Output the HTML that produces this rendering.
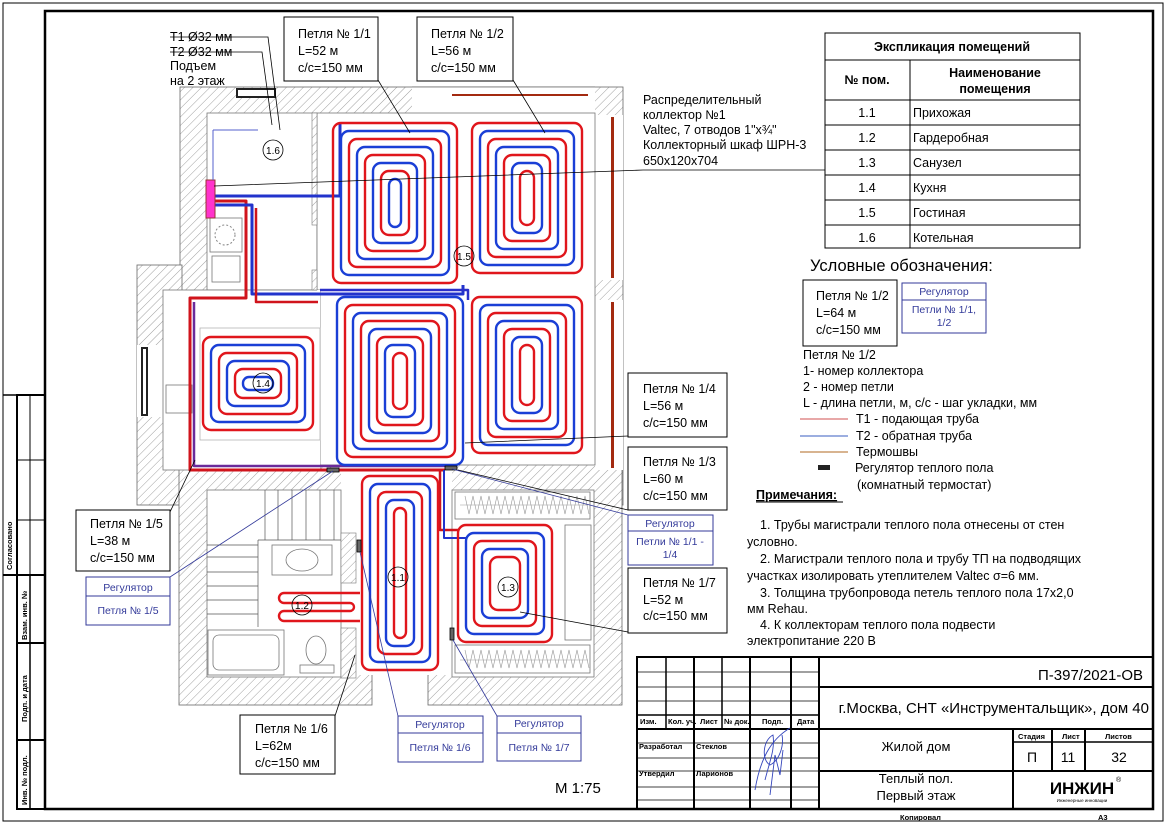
<!DOCTYPE html>
<html><head><meta charset="utf-8"><style>
html,body{margin:0;padding:0;background:#fff}
svg{display:block}
text{font-family:"Liberation Sans","DejaVu Sans",sans-serif;fill:#000}
.b{font-size:12.5px}
.r{fill:none;stroke:#e0161c;stroke-width:2.4}
.u{fill:none;stroke:#1a3fd6;stroke-width:2.4}
.bx{fill:#fff;stroke:#000;stroke-width:1}
.bb{fill:#fff;stroke:#333a9a;stroke-width:1}
.bt{fill:#333a9a;font-size:10.5px}
.g{fill:#fff;stroke:#777;stroke-width:0.8}
.ln{stroke:#000;stroke-width:0.8;fill:none}
.bl{stroke:#333a9a;stroke-width:0.8;fill:none}
.st{font-size:7.5px;font-weight:bold}
</style></head><body>
<svg width="1166" height="824" viewBox="0 0 1166 824" xmlns="http://www.w3.org/2000/svg">
<defs>
<pattern id="h" width="6" height="6" patternUnits="userSpaceOnUse" patternTransform="rotate(45)">
<rect width="6" height="6" fill="#fff"/><line x1="0" y1="0" x2="0" y2="6" stroke="#888" stroke-width="0.8"/></pattern>
</defs>
<rect x="0" y="0" width="1166" height="824" fill="#fff"/>
<!-- frames -->
<rect x="3" y="3" width="1160" height="818" fill="none" stroke="#000" stroke-width="1"/>
<rect x="45" y="11" width="1108" height="798" fill="none" stroke="#000" stroke-width="2.5"/>
<!-- left stamp -->
<g stroke="#000" fill="none">
<rect x="17" y="395" width="28" height="414" stroke-width="2"/>
<line x1="3" y1="575" x2="45" y2="575" stroke-width="2"/>
<line x1="3" y1="395" x2="17" y2="395" stroke-width="1.5"/>
<line x1="3" y1="575" x2="3" y2="395"/>
<line x1="30" y1="395" x2="30" y2="575"/>
<line x1="17" y1="460" x2="45" y2="460"/>
<line x1="17" y1="520" x2="45" y2="520"/>
<line x1="30" y1="575" x2="30" y2="809" stroke-width="1.5"/>
<line x1="17" y1="643" x2="45" y2="643" stroke-width="2"/>
<line x1="17" y1="740" x2="45" y2="740" stroke-width="2"/>
</g>
<text class="st" transform="translate(12,570) rotate(-90)">Согласовано</text>
<text class="st" transform="translate(27,640) rotate(-90)">Взам. инв. №</text>
<text class="st" transform="translate(27,722) rotate(-90)">Подп. и дата</text>
<text class="st" transform="translate(27,805) rotate(-90)">Инв. № подл.</text>

<!-- building hatched -->
<rect x="180" y="87" width="443" height="418" fill="url(#h)" stroke="#666" stroke-width="0.8"/>
<rect x="137" y="265" width="45" height="240" fill="url(#h)" stroke="#666" stroke-width="0.8"/>
<rect x="179" y="460" width="193" height="245" fill="url(#h)" stroke="#666" stroke-width="0.8"/>
<rect x="428" y="460" width="194" height="245" fill="url(#h)" stroke="#666" stroke-width="0.8"/>
<!-- openings / interiors -->
<rect x="412" y="87" width="183" height="27" fill="#fff"/>
<line x1="412" y1="87" x2="595" y2="87" stroke="#666" stroke-width="0.8"/>
<rect x="452" y="94" width="136" height="2" fill="#a32a10"/>
<rect x="237" y="89" width="38" height="8" fill="#fff" stroke="#222" stroke-width="2"/>
<rect x="595" y="115" width="28" height="165" fill="#fff"/>
<rect x="595" y="300" width="28" height="170" fill="#fff"/>
<rect x="611" y="117" width="3" height="161" fill="#a32a10"/>
<rect x="611" y="302" width="3" height="166" fill="#a32a10"/>
<rect x="137" y="345" width="26" height="72" fill="#fff"/>
<rect x="142" y="348" width="5" height="67" fill="#fff" stroke="#222" stroke-width="2"/>
<rect x="207" y="113" width="110" height="177" class="g"/>
<rect x="317" y="113" width="278" height="352" class="g"/>
<rect x="163" y="290" width="157" height="180" class="g"/>
<rect x="317" y="290" width="3" height="180" fill="#fff"/>
<rect x="341" y="465" width="111" height="210" fill="#fff"/>
<rect x="207" y="490" width="134" height="187" class="g"/>
<rect x="452" y="490" width="142" height="187" class="g"/>
<rect x="312" y="113" width="5" height="112" fill="url(#h)" stroke="#777" stroke-width="0.6"/>
<rect x="312" y="270" width="5" height="20" fill="url(#h)" stroke="#777" stroke-width="0.6"/>
<!-- kitchen fixtures -->
<rect x="210" y="218" width="32" height="34" class="g"/>
<circle cx="225" cy="235" r="10" fill="none" stroke="#888" stroke-dasharray="2 2"/>
<rect x="212" y="256" width="28" height="26" class="g"/>
<rect x="166" y="385" width="26" height="28" class="g"/>
<rect x="200" y="328" width="120" height="112" fill="none" stroke="#aaa" stroke-width="0.7"/>
<!-- stairs -->
<g stroke="#555" stroke-width="0.7">
<line x1="265" y1="490" x2="265" y2="540"/><line x1="278" y1="490" x2="278" y2="540"/>
<line x1="292" y1="490" x2="292" y2="540"/><line x1="306" y1="490" x2="306" y2="540"/>
<line x1="320" y1="490" x2="320" y2="540"/><line x1="334" y1="490" x2="334" y2="540"/>
<line x1="207" y1="545" x2="258" y2="545"/><line x1="207" y1="557" x2="258" y2="557"/>
<line x1="207" y1="572" x2="258" y2="572"/><line x1="207" y1="586" x2="258" y2="586"/>
<line x1="207" y1="600" x2="258" y2="600"/><line x1="207" y1="614" x2="258" y2="614"/>
<line x1="258" y1="540" x2="258" y2="627"/><line x1="258" y1="540" x2="341" y2="540"/>
</g>
<rect x="341" y="533" width="15" height="50" fill="url(#h)" stroke="#777" stroke-width="0.6"/>
<rect x="341" y="628" width="15" height="50" fill="url(#h)" stroke="#777" stroke-width="0.6"/>
<rect x="272" y="545" width="60" height="30" class="g"/>
<ellipse cx="302" cy="560" rx="16" ry="11" class="g"/>
<rect x="208" y="630" width="76" height="45" class="g"/>
<rect x="213" y="635" width="66" height="35" rx="6" class="g"/>
<ellipse cx="316" cy="650" rx="10" ry="14" class="g"/>
<rect x="300" y="665" width="34" height="8" class="g"/>
<!-- closets -->
<rect x="455" y="492" width="135" height="27" class="g"/>
<rect x="455" y="645" width="135" height="28" class="g"/>
<rect x="565" y="525" width="26" height="115" class="g"/>
<path d="M460 505 L588 505 M465 496 l4 18 l4 -18 l4 18 l4 -18 l4 18 l4 -18 l4 18 l4 -18 l4 18 l4 -18 l4 18 l4 -18 l4 18 l4 -18 l4 18 l4 -18 l4 18 l4 -18 l4 18 l4 -18 l4 18 l4 -18 l4 18 l4 -18 l4 18 l4 -18 l4 18 l4 -18 l4 18 l4 -18 l4 18" fill="none" stroke="#999" stroke-width="0.6"/>
<path d="M460 660 L588 660 M465 650 l4 18 l4 -18 l4 18 l4 -18 l4 18 l4 -18 l4 18 l4 -18 l4 18 l4 -18 l4 18 l4 -18 l4 18 l4 -18 l4 18 l4 -18 l4 18 l4 -18 l4 18 l4 -18 l4 18 l4 -18 l4 18 l4 -18 l4 18 l4 -18 l4 18 l4 -18 l4 18 l4 -18 l4 18" fill="none" stroke="#999" stroke-width="0.6"/>

<!-- trunk -->
<g fill="none" stroke-linejoin="round">
<path d="M212 196 H340 V123" stroke="#2233cc" stroke-width="3"/>
<path d="M212 201 H246 V298 H190 V470 H445" stroke="#d0141c" stroke-width="3"/>
<path d="M212 205 H252 V294 H463 V285" stroke="#2233cc" stroke-width="3"/>
<path d="M194 302 V466 H445" stroke="#6a2a9a" stroke-width="2.5"/>
<path d="M256 208 V302 H318" stroke="#d0141c" stroke-width="2.5"/>
<path d="M320 290 H468 V300" stroke="#2a2fc9" stroke-width="2.5"/>
<path d="M440 470 V530 H458" stroke="#d0141c" stroke-width="2.5"/>
<path d="M444 470 V538 H466" stroke="#2233cc" stroke-width="2"/>
</g>
<rect x="206" y="180" width="9" height="38" fill="#f3c" stroke="#933" stroke-width="1"/>
<line x1="213" y1="130" x2="213" y2="180" stroke="#5560cc" stroke-width="1"/>
<line x1="213" y1="130" x2="258" y2="130" stroke="#5560cc" stroke-width="1"/>

<!-- loops -->
<g>
<rect class="r" x="333" y="123" width="124" height="160" rx="8"/>
<rect class="u" x="341" y="131" width="108" height="144" rx="8"/>
<rect class="r" x="349" y="139" width="92" height="128" rx="8"/>
<rect class="u" x="357" y="147" width="76" height="112" rx="8"/>
<rect class="r" x="365" y="155" width="60" height="96" rx="8"/>
<rect class="u" x="373" y="163" width="44" height="80" rx="8"/>
<rect class="r" x="381" y="171" width="28" height="64" rx="8"/>
<rect class="u" x="389" y="179" width="12" height="48" rx="6"/>

<rect class="r" x="472" y="123" width="110" height="150" rx="8"/>
<rect class="u" x="480" y="131" width="94" height="134" rx="8"/>
<rect class="r" x="488" y="139" width="78" height="118" rx="8"/>
<rect class="u" x="496" y="147" width="62" height="102" rx="8"/>
<rect class="r" x="504" y="155" width="46" height="86" rx="8"/>
<rect class="u" x="512" y="163" width="30" height="70" rx="8"/>
<rect class="r" x="520" y="171" width="14" height="54" rx="7"/>

<rect class="u" x="337" y="297" width="126" height="168" rx="8"/>
<rect class="r" x="345" y="305" width="110" height="152" rx="8"/>
<rect class="u" x="353" y="313" width="94" height="136" rx="8"/>
<rect class="r" x="361" y="321" width="78" height="120" rx="8"/>
<rect class="u" x="369" y="329" width="62" height="104" rx="8"/>
<rect class="r" x="377" y="337" width="46" height="88" rx="8"/>
<rect class="u" x="385" y="345" width="30" height="72" rx="8"/>
<rect class="r" x="393" y="353" width="14" height="56" rx="7"/>

<rect class="r" x="472" y="297" width="110" height="156" rx="8"/>
<rect class="u" x="480" y="305" width="94" height="140" rx="8"/>
<rect class="r" x="488" y="313" width="78" height="124" rx="8"/>
<rect class="u" x="496" y="321" width="62" height="108" rx="8"/>
<rect class="r" x="504" y="329" width="46" height="92" rx="8"/>
<rect class="u" x="512" y="337" width="30" height="76" rx="8"/>
<rect class="r" x="520" y="345" width="14" height="60" rx="7"/>

<rect class="r" x="203" y="337" width="110" height="93" rx="8"/>
<rect class="u" x="211" y="345" width="94" height="77" rx="8"/>
<rect class="r" x="219" y="353" width="78" height="61" rx="8"/>
<rect class="u" x="227" y="361" width="62" height="45" rx="8"/>
<rect class="r" x="235" y="369" width="46" height="29" rx="8"/>
<rect class="u" x="243" y="377" width="30" height="13" rx="6"/>

<rect class="r" x="362" y="476" width="76" height="194" rx="8"/>
<rect class="u" x="370" y="484" width="60" height="178" rx="8"/>
<rect class="r" x="378" y="492" width="44" height="162" rx="8"/>
<rect class="u" x="386" y="500" width="28" height="146" rx="8"/>
<rect class="r" x="394" y="508" width="12" height="130" rx="6"/>

<rect class="r" x="458" y="525" width="94" height="117" rx="8"/>
<rect class="u" x="466" y="533" width="78" height="101" rx="8"/>
<rect class="r" x="474" y="541" width="62" height="85" rx="8"/>
<rect class="u" x="482" y="549" width="46" height="69" rx="8"/>
<rect class="r" x="490" y="557" width="30" height="53" rx="8"/>

<path class="r" d="M360 593 H284 a5 5 0 0 0 0 10 H350 a4 4 0 0 1 0 8 H284 a5 5 0 0 0 0 10 H360"/>
</g>
<!-- room markers -->
<g fill="none" stroke="#000" stroke-width="0.8">
<circle cx="273" cy="150" r="10"/><circle cx="464" cy="256" r="10"/><circle cx="263" cy="383" r="10"/>
<circle cx="398" cy="577" r="10"/><circle cx="302" cy="605" r="10"/><circle cx="508" cy="587" r="10"/>
</g>
<g font-size="10" text-anchor="middle">
<text x="273" y="154">1.6</text><text x="464" y="260">1.5</text><text x="263" y="387">1.4</text>
<text x="398" y="581">1.1</text><text x="302" y="609">1.2</text><text x="508" y="591">1.3</text>
</g>
<!-- regulators -->
<g fill="#666" stroke="#000" stroke-width="0.8">
<rect x="327" y="468" width="12" height="4"/><rect x="445" y="466" width="12" height="4"/>
<rect x="357" y="540" width="4" height="12"/><rect x="450" y="628" width="4" height="12"/>
</g>

<!-- leaders -->
<path class="ln" d="M170 37 H268 L280 130 M170 52 H262 L272 125"/>
<path class="ln" d="M378 80 L410 133 M513 80 L545 133"/>
<path class="ln" d="M643 170 H825 M643 170 L214 186"/>
<path class="ln" d="M628 436 L465 443 M628 510 L458 470 M628 632 L520 612"/>
<path class="ln" d="M170 512 L195 460 M335 716 L355 655"/>
<path class="bl" d="M170 577 L333 471 M628 515 L452 469 M398 716 L360 552 M497 716 L453 640"/>

<!-- label boxes -->
<g class="b">
<text x="170" y="41">Т1 Ø32 мм</text>
<text x="170" y="56">Т2 Ø32 мм</text>
<text x="170" y="70">Подъем</text>
<text x="170" y="85">на 2 этаж</text>
<rect class="bx" x="284" y="17" width="94" height="64"/>
<text x="298" y="38">Петля № 1/1</text><text x="298" y="55">L=52 м</text><text x="298" y="72">с/с=150 мм</text>
<rect class="bx" x="417" y="17" width="96" height="64"/>
<text x="431" y="38">Петля № 1/2</text><text x="431" y="55">L=56 м</text><text x="431" y="72">с/с=150 мм</text>
<text x="643" y="104">Распределительный</text>
<text x="643" y="119">коллектор №1</text>
<text x="643" y="134">Valtec, 7 отводов 1"х¾"</text>
<text x="643" y="149">Коллекторный шкаф ШРН-3</text>
<text x="643" y="165">650х120х704</text>
<rect class="bx" x="628" y="373" width="99" height="64"/>
<text x="643" y="393">Петля № 1/4</text><text x="643" y="410">L=56 м</text><text x="643" y="427">с/с=150 мм</text>
<rect class="bx" x="628" y="447" width="99" height="63"/>
<text x="643" y="466">Петля № 1/3</text><text x="643" y="483">L=60 м</text><text x="643" y="500">с/с=150 мм</text>
<rect class="bx" x="628" y="568" width="99" height="65"/>
<text x="643" y="587">Петля № 1/7</text><text x="643" y="604">L=52 м</text><text x="643" y="620">с/с=150 мм</text>
<rect class="bx" x="76" y="510" width="94" height="61"/>
<text x="90" y="528">Петля № 1/5</text><text x="90" y="545">L=38 м</text><text x="90" y="562">с/с=150 мм</text>
<rect class="bx" x="240" y="715" width="95" height="59"/>
<text x="255" y="733">Петля № 1/6</text><text x="255" y="750">L=62м</text><text x="255" y="767">с/с=150 мм</text>
</g>
<g>
<rect class="bb" x="628" y="515" width="85" height="50"/><line x1="628" y1="531" x2="713" y2="531" stroke="#333a9a"/>
<text class="bt" x="670" y="527" text-anchor="middle">Регулятор</text>
<text class="bt" x="670" y="545" text-anchor="middle">Петли № 1/1 -</text><text class="bt" x="670" y="558" text-anchor="middle">1/4</text>
<rect class="bb" x="86" y="577" width="84" height="48"/><line x1="86" y1="596" x2="170" y2="596" stroke="#333a9a"/>
<text class="bt" x="128" y="591" text-anchor="middle">Регулятор</text><text class="bt" x="128" y="614" text-anchor="middle">Петля № 1/5</text>
<rect class="bb" x="398" y="716" width="85" height="46"/><line x1="398" y1="733" x2="483" y2="733" stroke="#333a9a"/>
<text class="bt" x="440" y="728" text-anchor="middle">Регулятор</text><text class="bt" x="440" y="751" text-anchor="middle">Петля № 1/6</text>
<rect class="bb" x="497" y="716" width="84" height="45"/><line x1="497" y1="733" x2="581" y2="733" stroke="#333a9a"/>
<text class="bt" x="539" y="727" text-anchor="middle">Регулятор</text><text class="bt" x="539" y="751" text-anchor="middle">Петля № 1/7</text>
</g>
<text x="555" y="793" font-size="15">М 1:75</text>

<!-- explication table -->
<g stroke="#000" stroke-width="1" fill="none">
<rect x="825" y="33" width="255" height="215"/>
<line x1="825" y1="60" x2="1080" y2="60"/><line x1="825" y1="100" x2="1080" y2="100"/>
<line x1="825" y1="125" x2="1080" y2="125"/><line x1="825" y1="150" x2="1080" y2="150"/>
<line x1="825" y1="175" x2="1080" y2="175"/><line x1="825" y1="200" x2="1080" y2="200"/>
<line x1="825" y1="225" x2="1080" y2="225"/><line x1="910" y1="60" x2="910" y2="248"/>
</g>
<g font-size="12.5">
<text x="952" y="51" text-anchor="middle" font-weight="bold">Экспликация помещений</text>
<text x="867" y="84" text-anchor="middle" font-weight="bold">№ пом.</text>
<text x="995" y="77" text-anchor="middle" font-weight="bold">Наименование</text>
<text x="995" y="93" text-anchor="middle" font-weight="bold">помещения</text>
<text x="867" y="117" text-anchor="middle">1.1</text><text x="913" y="117">Прихожая</text>
<text x="867" y="142" text-anchor="middle">1.2</text><text x="913" y="142">Гардеробная</text>
<text x="867" y="167" text-anchor="middle">1.3</text><text x="913" y="167">Санузел</text>
<text x="867" y="192" text-anchor="middle">1.4</text><text x="913" y="192">Кухня</text>
<text x="867" y="217" text-anchor="middle">1.5</text><text x="913" y="217">Гостиная</text>
<text x="867" y="242" text-anchor="middle">1.6</text><text x="913" y="242">Котельная</text>
</g>

<!-- legend -->
<text x="810" y="271" font-size="16.5">Условные обозначения:</text>
<rect class="bx" x="803" y="280" width="94" height="66"/>
<g class="b"><text x="816" y="300">Петля № 1/2</text><text x="816" y="317">L=64 м</text><text x="816" y="334">с/с=150 мм</text></g>
<rect class="bb" x="902" y="283" width="84" height="50"/><line x1="902" y1="300" x2="986" y2="300" stroke="#333a9a"/>
<text class="bt" x="944" y="295" text-anchor="middle">Регулятор</text>
<text class="bt" x="944" y="313" text-anchor="middle">Петли № 1/1,</text><text class="bt" x="944" y="326" text-anchor="middle">1/2</text>
<g class="b">
<text x="803" y="359">Петля № 1/2</text>
<text x="803" y="375">1- номер коллектора</text>
<text x="803" y="391">2 - номер петли</text>
<text x="803" y="407">L - длина петли, м, с/с - шаг укладки, мм</text>
<text x="856" y="423">Т1 - подающая труба</text>
<text x="856" y="440">Т2 - обратная труба</text>
<text x="856" y="456">Термошвы</text>
<text x="855" y="472">Регулятор теплого пола</text>
<text x="857" y="489">(комнатный термостат)</text>
</g>
<line x1="800" y1="419" x2="848" y2="419" stroke="#d05050" stroke-width="1"/>
<line x1="800" y1="436" x2="848" y2="436" stroke="#3a5cc0" stroke-width="1"/>
<line x1="800" y1="452" x2="848" y2="452" stroke="#b06a20" stroke-width="1"/>
<rect x="818" y="465" width="12" height="5" fill="#222"/>
<text x="756" y="499" font-size="12.5" font-weight="bold" text-decoration="underline">Примечания:</text>
<line x1="756" y1="502" x2="843" y2="502" stroke="#000" stroke-width="1"/>
<g class="b">
<text x="760" y="529">1.    Трубы магистрали теплого пола отнесены от стен</text>
<text x="747" y="546">условно.</text>
<text x="760" y="563">2.    Магистрали теплого пола и трубу ТП на подводящих</text>
<text x="747" y="580">участках изолировать утеплителем Valtec σ=6 мм.</text>
<text x="760" y="597">3.    Толщина трубопровода петель теплого пола 17х2,0</text>
<text x="747" y="613">мм Rehau.</text>
<text x="760" y="629">4.    К коллекторам теплого пола подвести</text>
<text x="747" y="645">электропитание 220 В</text>
</g>

<!-- title block -->
<g stroke="#000" fill="none">
<rect x="637" y="657" width="516" height="152" stroke-width="2"/>
<line x1="819" y1="657" x2="819" y2="809" stroke-width="2"/>
<line x1="666" y1="657" x2="666" y2="729" stroke-width="1.5"/>
<line x1="694" y1="657" x2="694" y2="809" stroke-width="2"/>
<line x1="722" y1="657" x2="722" y2="729" stroke-width="1.5"/>
<line x1="750" y1="657" x2="750" y2="809" stroke-width="2"/>
<line x1="791" y1="657" x2="791" y2="809" stroke-width="2"/>
<line x1="637" y1="672" x2="819" y2="672" stroke-width="0.8"/>
<line x1="637" y1="687" x2="819" y2="687" stroke-width="0.8"/>
<line x1="637" y1="701" x2="819" y2="701" stroke-width="0.8"/>
<line x1="637" y1="715" x2="819" y2="715" stroke-width="1.5"/>
<line x1="637" y1="729" x2="819" y2="729" stroke-width="2"/>
<line x1="637" y1="743" x2="819" y2="743" stroke-width="0.8"/>
<line x1="637" y1="758" x2="819" y2="758" stroke-width="0.8"/>
<line x1="637" y1="771" x2="819" y2="771" stroke-width="0.8"/>
<line x1="637" y1="787" x2="819" y2="787" stroke-width="0.8"/>
<line x1="637" y1="800" x2="819" y2="800" stroke-width="0.8"/>
<line x1="819" y1="687" x2="1153" y2="687" stroke-width="2"/>
<line x1="819" y1="729" x2="1153" y2="729" stroke-width="2"/>
<line x1="819" y1="771" x2="1153" y2="771" stroke-width="2"/>
<line x1="1013" y1="729" x2="1013" y2="809" stroke-width="2"/>
<line x1="1052" y1="729" x2="1052" y2="771" stroke-width="2"/>
<line x1="1085" y1="729" x2="1085" y2="771" stroke-width="2"/>
<line x1="1013" y1="742" x2="1153" y2="742" stroke-width="1.5"/>
</g>
<g class="st" font-size="7">
<text x="640" y="724">Изм.</text><text x="668" y="724">Кол. уч.</text><text x="700" y="724">Лист</text>
<text x="724" y="724">№ док.</text><text x="762" y="724">Подп.</text><text x="797" y="724">Дата</text>
<text x="639" y="749">Разработал</text><text x="696" y="749">Стеклов</text>
<text x="639" y="776">Утвердил</text><text x="696" y="776">Ларионов</text>
<text x="1018" y="739">Стадия</text><text x="1062" y="739">Лист</text><text x="1105" y="739">Листов</text>
<text x="900" y="820">Копировал</text><text x="1098" y="820">А3</text>
</g>
<path d="M755 790 C760 760 770 740 790 728 M765 780 c5 -20 10 -30 8 -45 c-10 5 -12 25 -3 30 c10 -5 14 -20 12 -30 M770 795 l5 -40 l5 20 l3 -25" fill="none" stroke="#3344bb" stroke-width="0.9"/>
<text x="1143" y="680" font-size="15" text-anchor="end">П-397/2021-ОВ</text>
<text x="1149" y="713" font-size="15" text-anchor="end">г.Москва, СНТ «Инструментальщик», дом 40</text>
<text x="916" y="751" font-size="13" text-anchor="middle">Жилой дом</text>
<text x="1032" y="762" font-size="14" text-anchor="middle">П</text>
<text x="1068" y="762" font-size="14" text-anchor="middle">11</text>
<text x="1119" y="762" font-size="14" text-anchor="middle">32</text>
<text x="916" y="783" font-size="13" text-anchor="middle">Теплый пол.</text>
<text x="916" y="800" font-size="13" text-anchor="middle">Первый этаж</text>
<text x="1082" y="794" font-size="17" font-weight="bold" text-anchor="middle" fill="#111">ИНЖИН</text>
<text x="1116" y="782" font-size="7">®</text>
<text x="1082" y="802" font-size="4.5" text-anchor="middle" fill="#3a6">Инженерные инновации</text>
</svg>
</body></html>
